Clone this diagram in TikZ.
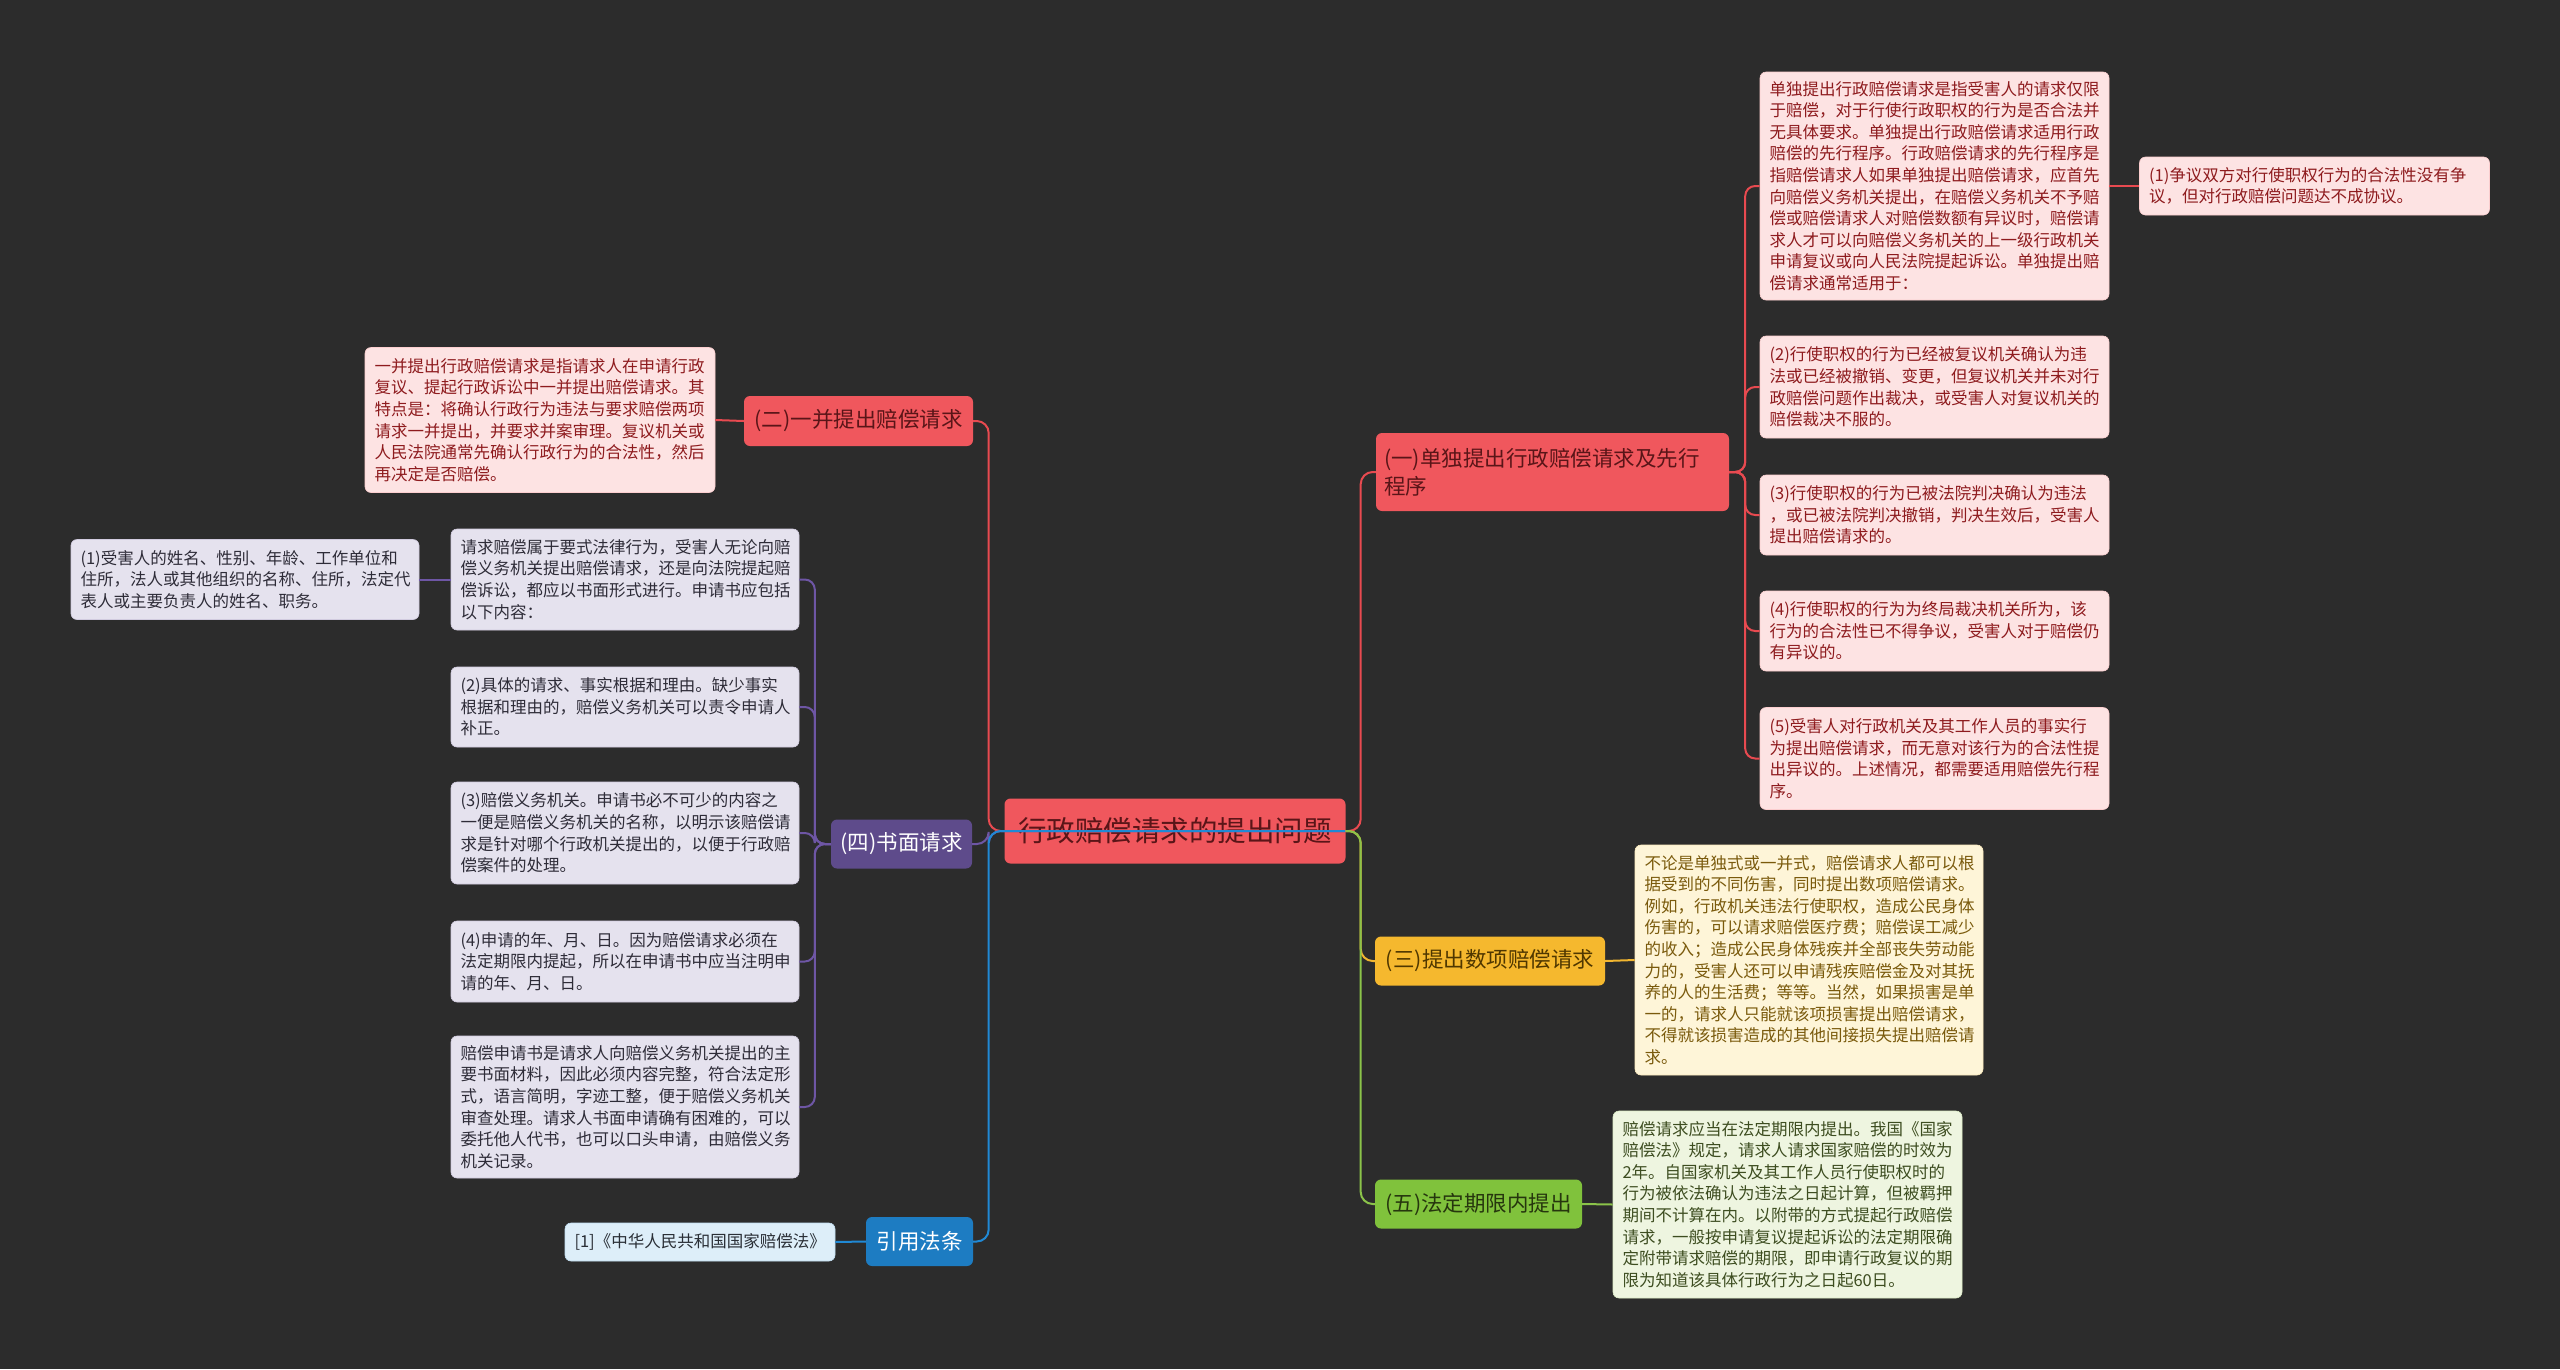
\documentclass[tikz,border=0pt]{standalone}
\usepackage{fontspec}
\setmainfont{Noto Sans CJK SC}
\definecolor{bg}{HTML}{2C2C2C}
\definecolor{redB}{HTML}{F0575D}
\definecolor{redT}{HTML}{5A1518}
\definecolor{redL}{HTML}{FDE3E3}
\definecolor{redLT}{HTML}{8E1B1E}
\definecolor{redLn}{HTML}{E84A50}
\definecolor{purB}{HTML}{5E4B8B}
\definecolor{purL}{HTML}{E5E2EE}
\definecolor{purLT}{HTML}{2E2C38}
\definecolor{purLn}{HTML}{6E56A5}
\definecolor{bluB}{HTML}{1D7CC2}
\definecolor{bluL}{HTML}{DDEEF9}
\definecolor{bluLT}{HTML}{2A2F36}
\definecolor{bluLn}{HTML}{2089D5}
\definecolor{yelB}{HTML}{F5B82E}
\definecolor{yelT}{HTML}{4F3700}
\definecolor{yelL}{HTML}{FEF5D8}
\definecolor{yelLT}{HTML}{7A5A0C}
\definecolor{yelLn}{HTML}{F2B630}
\definecolor{grnB}{HTML}{80C23C}
\definecolor{grnT}{HTML}{26360E}
\definecolor{grnL}{HTML}{EEF5E0}
\definecolor{grnLT}{HTML}{3D4D20}
\definecolor{grnLn}{HTML}{8BC34A}
\tikzset{
  leaf/.style={rounded corners=6pt, inner xsep=9.5pt, inner ysep=0pt, align=left,
    font=\fontsize{16.5}{21.6}\selectfont, anchor=center},
  redleaf/.style={leaf, fill=redL, draw=redL!85!redB, line width=0.6pt, text=redLT},
  purleaf/.style={leaf, fill=purL, draw=purL!85!purB, line width=0.6pt, text=purLT},
  yelleaf/.style={leaf, fill=yelL, draw=yelL!85!yelB, line width=0.6pt, text=yelLT},
  grnleaf/.style={leaf, fill=grnL, draw=grnL!85!grnB, line width=0.6pt, text=grnLT},
  bluleaf/.style={leaf, fill=bluL, draw=bluL!85!bluB, line width=0.6pt, text=bluLT},
  branch/.style={rounded corners=6pt, inner xsep=8pt, inner ysep=0pt, anchor=center,
    font=\fontsize{21.5}{28}\selectfont, minimum height=49pt},
  conn/.style={line width=2pt, rounded corners=12pt},
  sconn/.style={line width=2pt, rounded corners=10pt},
}
\begin{document}
\begin{tikzpicture}[x=1pt,y=-1pt]
\useasboundingbox[fill=bg] (0,0) rectangle (2560,1369);

% central
\node[rounded corners=6pt, fill=redB, text=redT, minimum width=341pt, minimum height=65pt,
  font=\fontsize{28.5}{34}\selectfont, anchor=center] (c) at (1175,831) {行政赔偿请求的提出问题};

% branches
\node[branch, fill=redB, text=redT, minimum width=229pt, minimum height=50pt] (b2) at (858.5,421) {(二)一并提出赔偿请求};
\node[branch, fill=purB, text=white, minimum width=141pt] (b4) at (901.5,844) {(四)书面请求};
\node[branch, fill=bluB, text=white, minimum width=107pt] (b6) at (919.5,1241.5) {引用法条};
\node[branch, fill=redB, text=redT, minimum height=78pt, text width=337pt, align=left] (b1) at (1552.5,472) {(一)单独提出行政赔偿请求及先行\\程序};
\node[branch, fill=yelB, text=yelT, minimum width=230pt] (b3) at (1490,961) {(三)提出数项赔偿请求};
\node[branch, fill=grnB, text=grnT, minimum width=207pt] (b5) at (1478.5,1204) {(五)法定期限内提出};

% right leaves
\node[redleaf, minimum width=349pt, text width=330pt, minimum height=228pt] (r0) at (1934.5,186) {单独提出行政赔偿请求是指受害人的请求仅限\\于赔偿，对于行使行政职权的行为是否合法并\\无具体要求。单独提出行政赔偿请求适用行政\\赔偿的先行程序。行政赔偿请求的先行程序是\\指赔偿请求人如果单独提出赔偿请求，应首先\\向赔偿义务机关提出，在赔偿义务机关不予赔\\偿或赔偿请求人对赔偿数额有异议时，赔偿请\\求人才可以向赔偿义务机关的上一级行政机关\\申请复议或向人民法院提起诉讼。单独提出赔\\偿请求通常适用于：};
\node[redleaf, minimum width=350pt, text width=331pt, minimum height=58pt] (r1) at (2314.5,186) {(1)争议双方对行使职权行为的合法性没有争\\议，但对行政赔偿问题达不成协议。};
\node[redleaf, minimum width=349pt, text width=330pt, minimum height=102pt] (r2) at (1934.5,387) {(2)行使职权的行为已经被复议机关确认为违\\法或已经被撤销、变更，但复议机关并未对行\\政赔偿问题作出裁决，或受害人对复议机关的\\赔偿裁决不服的。};
\node[redleaf, minimum width=349pt, text width=330pt, minimum height=80pt] (r3) at (1934.5,515) {(3)行使职权的行为已被法院判决确认为违法\\，或已被法院判决撤销，判决生效后，受害人\\提出赔偿请求的。};
\node[redleaf, minimum width=349pt, text width=330pt, minimum height=80pt] (r4) at (1934.5,631) {(4)行使职权的行为为终局裁决机关所为，该\\行为的合法性已不得争议，受害人对于赔偿仍\\有异议的。};
\node[redleaf, minimum width=349pt, text width=330pt, minimum height=102pt] (r5) at (1934.5,758.5) {(5)受害人对行政机关及其工作人员的事实行\\为提出赔偿请求，而无意对该行为的合法性提\\出异议的。上述情况，都需要适用赔偿先行程\\序。};
\node[yelleaf, minimum width=348pt, text width=329pt, minimum height=230pt] (y0) at (1809,960) {不论是单独式或一并式，赔偿请求人都可以根\\据受到的不同伤害，同时提出数项赔偿请求。\\例如，行政机关违法行使职权，造成公民身体\\伤害的，可以请求赔偿医疗费；赔偿误工减少\\的收入；造成公民身体残疾并全部丧失劳动能\\力的，受害人还可以申请残疾赔偿金及对其抚\\养的人的生活费；等等。当然，如果损害是单\\一的，请求人只能就该项损害提出赔偿请求，\\不得就该损害造成的其他间接损失提出赔偿请\\求。};
\node[grnleaf, minimum width=349pt, text width=330pt, minimum height=187pt] (g0) at (1787.5,1204.5) {赔偿请求应当在法定期限内提出。我国《国家\\赔偿法》规定，请求人请求国家赔偿的时效为\\2年。自国家机关及其工作人员行使职权时的\\行为被依法确认为违法之日起计算，但被羁押\\期间不计算在内。以附带的方式提起行政赔偿\\请求，一般按申请复议提起诉讼的法定期限确\\定附带请求赔偿的期限，即申请行政复议的期\\限为知道该具体行政行为之日起60日。};

% left leaves
\node[redleaf, minimum width=350pt, text width=331pt, minimum height=145pt] (l0) at (540,420) {一并提出行政赔偿请求是指请求人在申请行政\\复议、提起行政诉讼中一并提出赔偿请求。其\\特点是：将确认行政行为违法与要求赔偿两项\\请求一并提出，并要求并案审理。复议机关或\\人民法院通常先确认行政行为的合法性，然后\\再决定是否赔偿。};
\node[purleaf, minimum width=348pt, text width=329pt, minimum height=80pt] (p1) at (245,579.5) {(1)受害人的姓名、性别、年龄、工作单位和\\住所，法人或其他组织的名称、住所，法定代\\表人或主要负责人的姓名、职务。};
\node[purleaf, minimum width=348pt, text width=329pt, minimum height=101pt] (pa) at (625,579.5) {请求赔偿属于要式法律行为，受害人无论向赔\\偿义务机关提出赔偿请求，还是向法院提起赔\\偿诉讼，都应以书面形式进行。申请书应包括\\以下内容：};
\node[purleaf, minimum width=348pt, text width=329pt, minimum height=80pt] (pb) at (625,707) {(2)具体的请求、事实根据和理由。缺少事实\\根据和理由的，赔偿义务机关可以责令申请人\\补正。};
\node[purleaf, minimum width=348pt, text width=329pt, minimum height=102pt] (pc) at (625,833) {(3)赔偿义务机关。申请书必不可少的内容之\\一便是赔偿义务机关的名称，以明示该赔偿请\\求是针对哪个行政机关提出的，以便于行政赔\\偿案件的处理。};
\node[purleaf, minimum width=348pt, text width=329pt, minimum height=81pt] (pd) at (625,961.5) {(4)申请的年、月、日。因为赔偿请求必须在\\法定期限内提起，所以在申请书中应当注明申\\请的年、月、日。};
\node[purleaf, minimum width=348pt, text width=329pt, minimum height=142pt] (pe) at (625,1107) {赔偿申请书是请求人向赔偿义务机关提出的主\\要书面材料，因此必须内容完整，符合法定形\\式，语言简明，字迹工整，便于赔偿义务机关\\审查处理。请求人书面申请确有困难的，可以\\委托他人代书，也可以口头申请，由赔偿义务\\机关记录。};
\node[bluleaf, minimum width=270pt, text width=251pt, minimum height=38pt] (q0) at (700,1242) {[1]《中华人民共和国国家赔偿法》};

% connectors from centre (drawn over the central node, as in the reference)
\draw[conn, draw=redLn] (c.east) -- ++(-357,0) |- (b2.east);
\draw[conn, draw=purLn] (c.east) -- ++(-357,0) |- (b4.east);
\draw[conn, draw=bluLn] (c.east) -- ++(-357,0) |- (b6.east);
\draw[conn, draw=redLn] (c.east) -- ++(15,0) |- (b1.west);
\draw[conn, draw=yelLn] (c.east) -- ++(15,0) |- (b3.west);
\draw[conn, draw=grnLn] (c.east) -- ++(15,0) |- (b5.west);

% second-level connectors
\foreach \n in {r0,r2,r3,r4,r5}
  \draw[sconn, draw=redLn] (b1.east) -- ++(16,0) |- (\n.west);
\draw[sconn, draw=redLn] (r0.east) -- (r1.west);
\draw[sconn, draw=redLn] (b2.west) -- (l0.east);
\foreach \n in {pa,pb,pc,pd,pe}
  \draw[sconn, draw=purLn] (b4.west) -- ++(-16,0) |- (\n.east);
\draw[sconn, draw=purLn] (pa.west) -- (p1.east);
\draw[sconn, draw=bluLn] (b6.west) -- (q0.east);
\draw[sconn, draw=yelLn] (b3.east) -- (y0.west);
\draw[sconn, draw=grnLn] (b5.east) -- (g0.west);
\end{tikzpicture}
\end{document}
